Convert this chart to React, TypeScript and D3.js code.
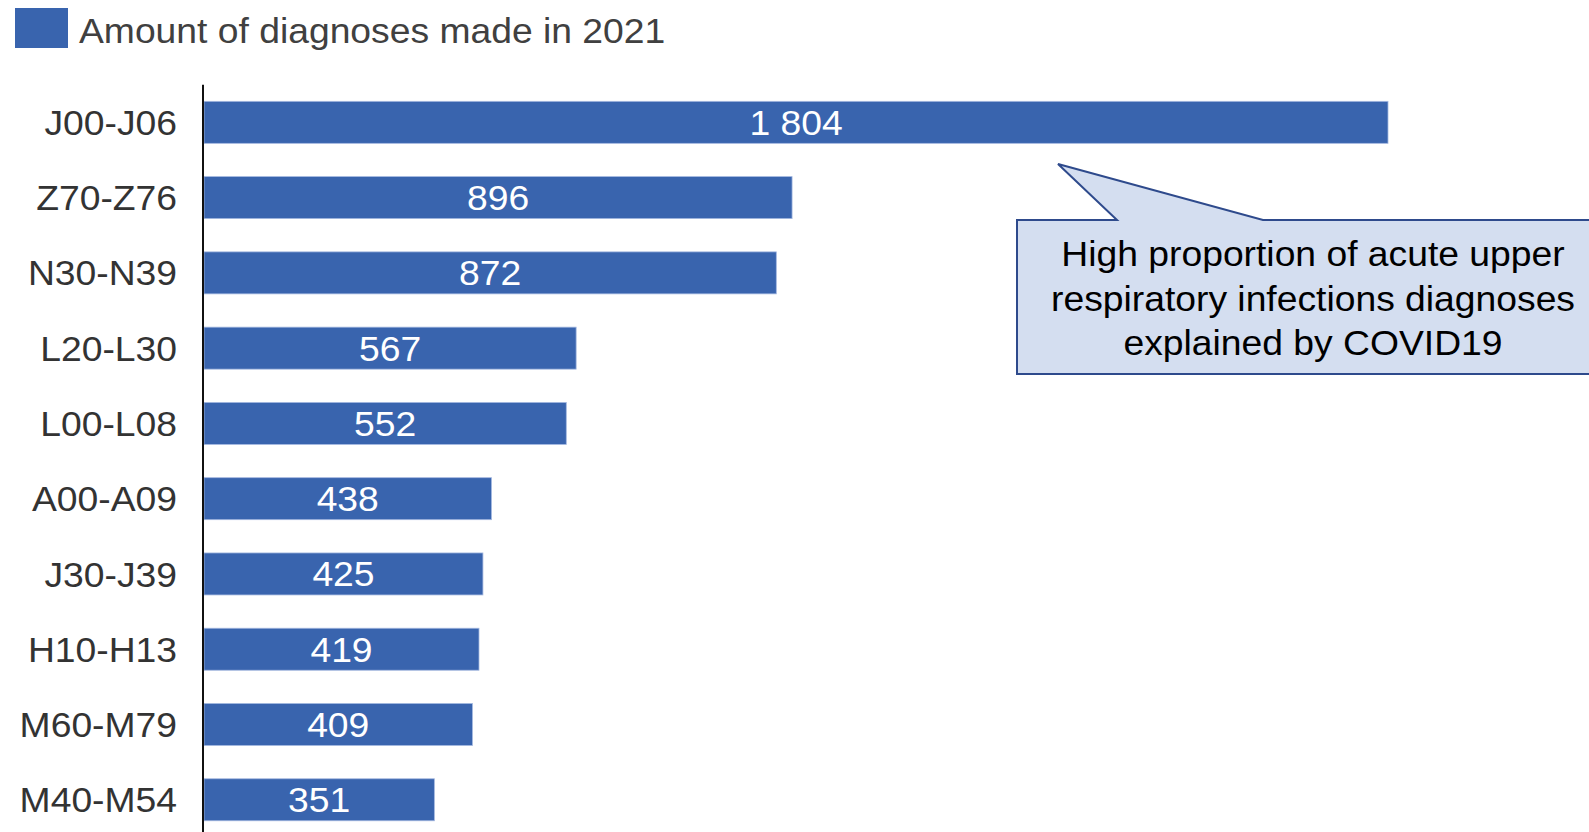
import React from "react";
import * as d3 from "d3";

const categories = ["J00-J06", "Z70-Z76", "N30-N39", "L20-L30", "L00-L08", "A00-A09", "J30-J39", "H10-H13", "M60-M79", "M40-M54"];
const values = [1804, 896, 872, 567, 552, 438, 425, 419, 409, 351];
const legendLabel = "Amount of diagnoses made in 2021";
const calloutLines = ["High proportion of acute upper", "respiratory infections diagnoses", "explained by COVID19"];

const W = 1589;
const H = 832;
const BAR = "#3964ae";
const FONT = "'Liberation Sans', Arial, sans-serif";
const SX = 1.065;
const FS = 35;

const locale = d3.formatLocale({ decimal: ".", thousands: "\u00a0", grouping: [3], currency: ["", ""] });
const fmt = locale.format(",d");

function T(props: { x: number; y: number; anchor?: string; fill: string; children: React.ReactNode }) {
  return (
    <text
      transform={`translate(${props.x},${props.y}) scale(${SX},1)`}
      fontSize={FS}
      fill={props.fill}
      textAnchor={props.anchor || "start"}
    >
      {props.children}
    </text>
  );
}

export default function App() {
  const x = d3.scaleLinear().domain([0, 1804]).range([204, 1388]);
  const y = d3
    .scaleBand<string>()
    .domain(categories)
    .range([84.7, 84.7 + 75.27 * categories.length])
    .paddingInner(0.442)
    .paddingOuter(0.221);

  const tip = [1058, 164];
  const boxL = 1017, boxT = 220, boxB = 374, boxR = 1612;
  const baseL = 1117, baseR = 1263;
  const calloutPath = `M${boxL},${boxT} L${baseL},${boxT} L${tip[0]},${tip[1]} L${baseR},${boxT} L${boxR},${boxT} L${boxR},${boxB} L${boxL},${boxB} Z`;
  const cx = 1313;

  return (
    <svg width={W} height={H} style={{ position: "absolute", left: 0, top: 0, background: "#fff" }} fontFamily={FONT}>
      {/* legend */}
      <rect x={15} y={8} width={53} height={40} fill={BAR} />
      <T x={79} y={42.5} fill="#404040">{legendLabel}</T>

      {/* bars */}
      {categories.map((c, i) => (
        <g key={c}>
          <rect
            x={x(0)}
            y={y(c)}
            width={x(values[i]) - x(0)}
            height={y.bandwidth()}
            fill={BAR}
            stroke="#a4b8e0"
            strokeWidth={0.8}
          />
          <T x={(x(0) + x(values[i])) / 2} y={(y(c) as number) + y.bandwidth() / 2 + 12.4} fill="#fff" anchor="middle">
            {fmt(values[i])}
          </T>
          <T x={177} y={(y(c) as number) + y.bandwidth() / 2 + 12.6} fill="#333" anchor="end">
            {c}
          </T>
        </g>
      ))}

      {/* axis line */}
      <line x1={203} x2={203} y1={84.7} y2={H + 10} stroke="#111" strokeWidth={2} />

      {/* callout */}
      <path d={calloutPath} fill="#d4def0" stroke="#2e4a8c" strokeWidth={2} strokeLinejoin="miter" />
      {calloutLines.map((l, i) => (
        <T key={i} x={cx} y={266 + i * 44.6} fill="#000" anchor="middle">
          {l}
        </T>
      ))}
    </svg>
  );
}
